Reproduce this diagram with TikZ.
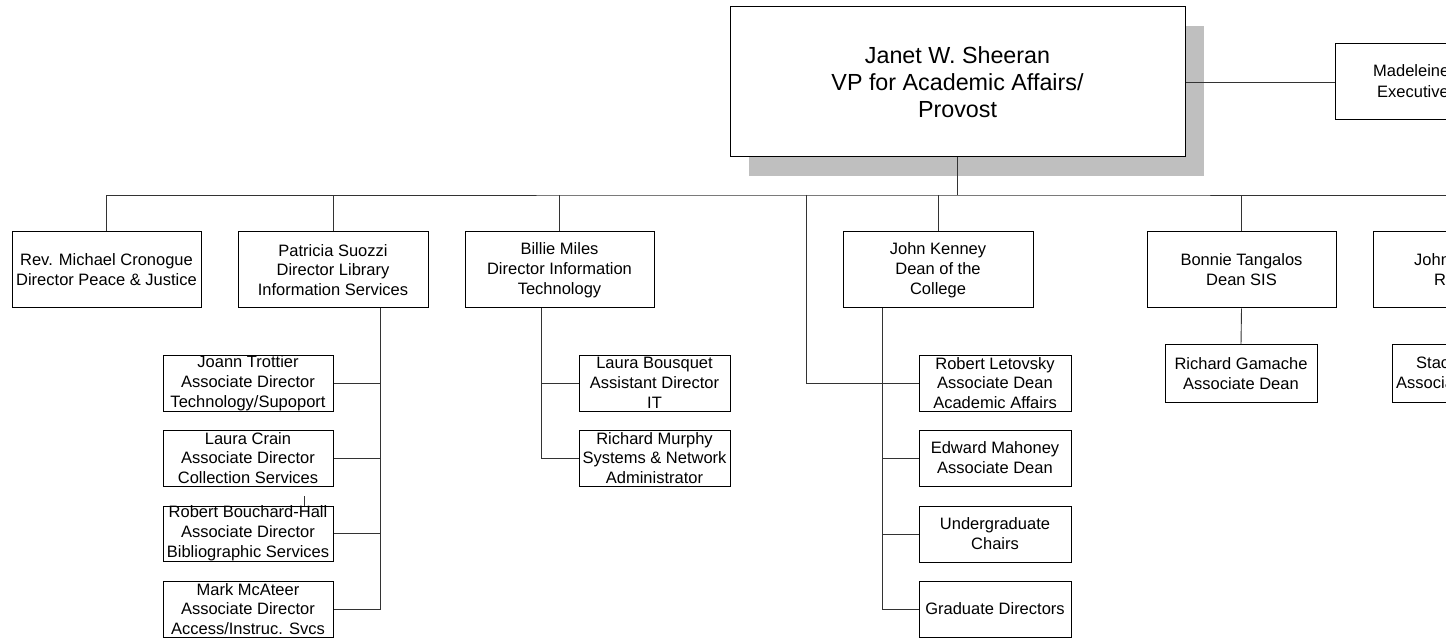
\documentclass[tikz,border=0pt]{standalone}
\usepackage{fontspec}
\setmainfont{Liberation Sans}
\begin{document}
\begin{tikzpicture}[x=1pt,y=-1pt,
  box/.style={draw=black, line width=1pt, fill=white, inner sep=0pt, align=center,
              font=\fontsize{16.5}{19.8}\selectfont},
  headbox/.style={box, minimum width=455pt, minimum height=150pt,
              font=\fontsize{23.3}{26.8}\selectfont},
  lvlbox/.style={box, minimum width=189pt, minimum height=76pt},
  libbox/.style={box, minimum width=170pt, minimum height=56pt},
  subbox/.style={box, minimum width=152pt, minimum height=56pt},
  cut/.style={inner sep=0pt, anchor=west, font=\fontsize{16.5}{19.8}\selectfont},
  link/.style={draw=black!80, line width=0.9pt}]

\useasboundingbox (0,0) rectangle (1446,644);
\fill[white] (0,0) rectangle (1446,644);
\clip (0,0) rectangle (1446,644);

% drop shadow of the provost box
\fill[black!25] (749,26) rectangle (1204,176);

% provost
\node[headbox] (top) at (957.5,82) {Janet W. Sheeran\\VP for Academic Affairs/\\Provost};

% executive box on the right
\node[lvlbox, minimum width=190pt] (mad) at (1430,82) {};
\node[cut] (madA) at (1373,71) {Madeleine};
\node[cut] (madB) at (1377,92) {Executive};

% second level
\node[lvlbox] (rev) at (106.5,270) {Rev. Michael Cronogue\\Director Peace \& Justice};
\node[lvlbox, minimum width=190pt] (pat) at (333,270) {Patricia Suozzi\\Director Library\\Information Services};
\node[lvlbox] (bil) at (559.5,270) {Billie Miles\\Director Information\\Technology};
\node[lvlbox, minimum width=190pt] (ken) at (938,270) {John Kenney\\Dean of the\\College};
\node[lvlbox] (bon) at (1241.5,270) {Bonnie Tangalos\\Dean SIS};
\node[lvlbox, minimum width=190pt] (joh) at (1468,270) {};
\node[cut] (johA) at (1414,260) {John};
\node[cut] (johB) at (1434,280) {R};

% library staff
\node[libbox] (joa) at (248,383) {Joann Trottier\\Associate Director\\Technology/Supoport};
\node[libbox] (cra) at (248,458) {Laura Crain\\Associate Director\\Collection Services};
\node[libbox, minimum height=55pt] (rbh) at (248,533.5) {Robert Bouchard-Hall\\Associate Director\\Bibliographic Services};
\node[libbox] (mca) at (248,609) {Mark McAteer\\Associate Director\\Access/Instruc. Svcs};

% information technology staff
\node[subbox, minimum width=151pt] (lbq) at (654.5,383) {Laura Bousquet\\Assistant Director\\IT};
\node[subbox, minimum width=151pt] (rmu) at (654.5,458) {Richard Murphy\\Systems \& Network\\Administrator};

% college staff
\node[subbox] (let) at (995,383) {Robert Letovsky\\Associate Dean\\Academic Affairs};
\node[subbox] (mah) at (995,458) {Edward Mahoney\\Associate Dean};
\node[subbox] (und) at (995,534) {Undergraduate\\Chairs};
\node[subbox] (gra) at (995,609) {Graduate Directors};

% SIS staff
\node[subbox, minimum height=57pt] (gam) at (1241,373.5) {Richard Gamache\\Associate Dean};
\node[subbox, minimum height=57pt] (sta) at (1468,373.5) {};
\node[cut] (staA) at (1416,363) {Stac};
\node[cut] (staB) at (1396,383) {Associa};

% bus under the provost
\coordinate (bus) at (957.5,195);
\coordinate (side) at (806,195);
\draw[link] (top.south) -- (bus);
\draw[link] (rev.north) |- (bus) -| (joh.north);
\foreach \n in {pat,bil,ken,bon}
  \draw[link] (\n.north) -- (\n.north |- bus);
\draw[link] (top.east) -- (mad.west);
\draw[link] (side) |- (let.west);

% library branch
\coordinate (pline) at ([xshift=47pt]pat.south);
\draw[link] (pline) |- (mca.east);
\foreach \n in {joa,cra,rbh}
  \draw[link] (\n.east) -- (\n.east -| pline);
\draw[link] ([xshift=56pt]rbh.north) -- ++(0,-10);

% information technology branch
\coordinate (bline) at ([xshift=-18.5pt]bil.south);
\draw[link] (bline) |- (rmu.west);
\draw[link] (lbq.west) -- (lbq.west -| bline);

% college branch
\coordinate (kline) at ([xshift=-56pt]ken.south);
\draw[link] (kline) |- (gra.west);
\foreach \n in {let,mah,und}
  \draw[link] (\n.west) -- (\n.west -| kline);

% SIS and last branch
\draw[link] (bon.south) -- (gam.north);
\draw[link] (joh.south) -- (sta.north);
\end{tikzpicture}
\end{document}
